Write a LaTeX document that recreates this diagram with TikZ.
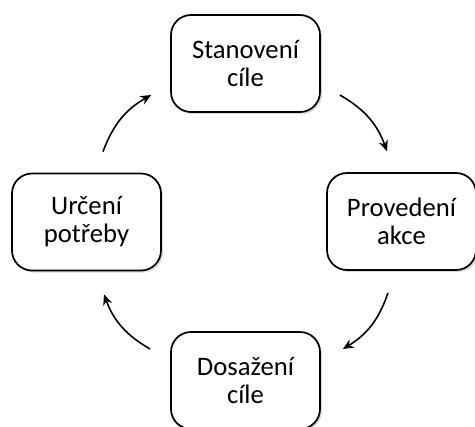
\documentclass[tikz,border=0pt]{standalone}
\usepackage{fontspec}
\setmainfont{Carlito}
\usetikzlibrary{arrows.meta,calc,shadows}

\tikzset{
  stage/.style={draw=black, line width=1.3pt, rounded corners=15pt, fill=white,
    minimum width=111.75pt, minimum height=72.75pt, align=center,
    font=\fontsize{20}{21}\selectfont,
    drop shadow={shadow xshift=1.5pt, shadow yshift=-1.5pt, opacity=0.3}},
  cyc/.style={line width=1.2pt, -{Stealth[length=8pt,width=7pt]}, bend left=20}
}

\begin{document}
\begin{tikzpicture}[x=0.75pt,y=-0.75pt]
\useasboundingbox (0,0) rectangle (475,426);

% Stages
\node[stage] (goal) at (245.5,63.5) {Stanovení\\cíle};
\node[stage] (action) at (401.5,221.5) {Provedení\\akce};
\node[stage] (result) at (245.5,380.5) {Dosažení\\cíle};
\node[stage] (need) at (86.5,222) {Určení\\potřeby};

% Cycle arrows
\draw[cyc] ($(need.north)+(16.5,-21)$) to ($(goal.west)+(-19,31.5)$);
\draw[cyc] ($(goal.east)+(19,31.5)$) to ($(action.north)+(-14.5,-21)$);
\draw[cyc] ($(action.south)+(-13.5,22)$) to ($(result.east)+(22,-31.5)$);
\draw[cyc] ($(result.west)+(-20,-31.5)$) to ($(need.south)+(17.5,23)$);
\end{tikzpicture}
\end{document}
